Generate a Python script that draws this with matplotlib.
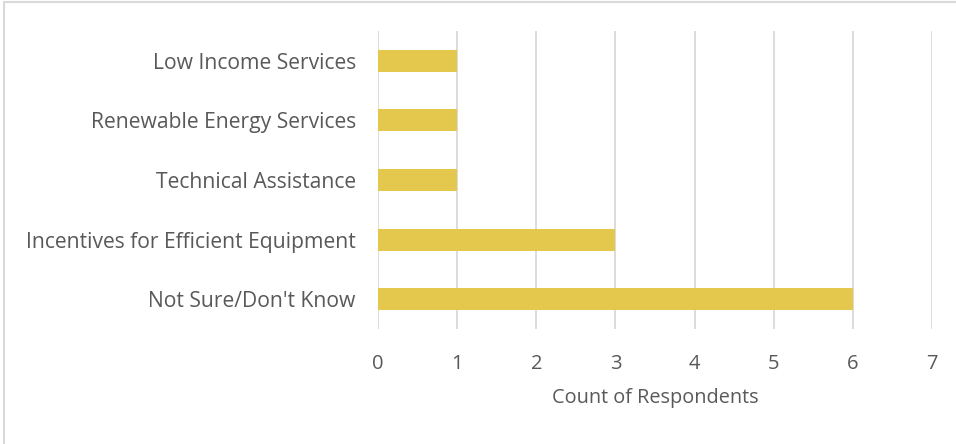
import matplotlib.pyplot as plt
from matplotlib.patches import Rectangle

categories = ["Not Sure/Don't Know", "Incentives for Efficient Equipment",
              "Technical Assistance", "Renewable Energy Services", "Low Income Services"]
counts = [6, 3, 1, 1, 1]
xticks = [0, 1, 2, 3, 4, 5, 6, 7]

plt.rcParams['font.family'] = ['Open Sans', 'DejaVu Sans']
gray = "#595959"

fig = plt.figure(figsize=(9.56, 4.44), dpi=100)
ax = fig.add_axes([0.3954, 0.259, 0.5796, 0.671])

ax.barh(range(len(categories)), counts, height=0.37, color="#E4C84E", zorder=3)
ax.set_xlim(0, 7)
ax.set_ylim(-0.5, len(categories) - 0.5)
ax.set_xticks(xticks)
ax.set_yticks(range(len(categories)))
ax.set_yticklabels(categories)
ax.grid(axis="x", color="#D9D9D9", linewidth=1.3, zorder=0)
for s in ax.spines.values():
    s.set_visible(False)
ax.tick_params(axis="x", length=0, pad=18, labelsize=14.5, labelcolor=gray)
ax.tick_params(axis="y", length=0, pad=16, labelsize=15.2, labelcolor=gray)
ax.set_xlabel("Count of Respondents", fontsize=14.3, color=gray, labelpad=10)

fig.patches.append(Rectangle((4 / 956, -0.1), 1.0, 1 - 2 / 444 + 0.1,
                             transform=fig.transFigure, fill=False,
                             edgecolor="#D9D9D9", linewidth=1.5))

fig.savefig("out.png", dpi=100)
